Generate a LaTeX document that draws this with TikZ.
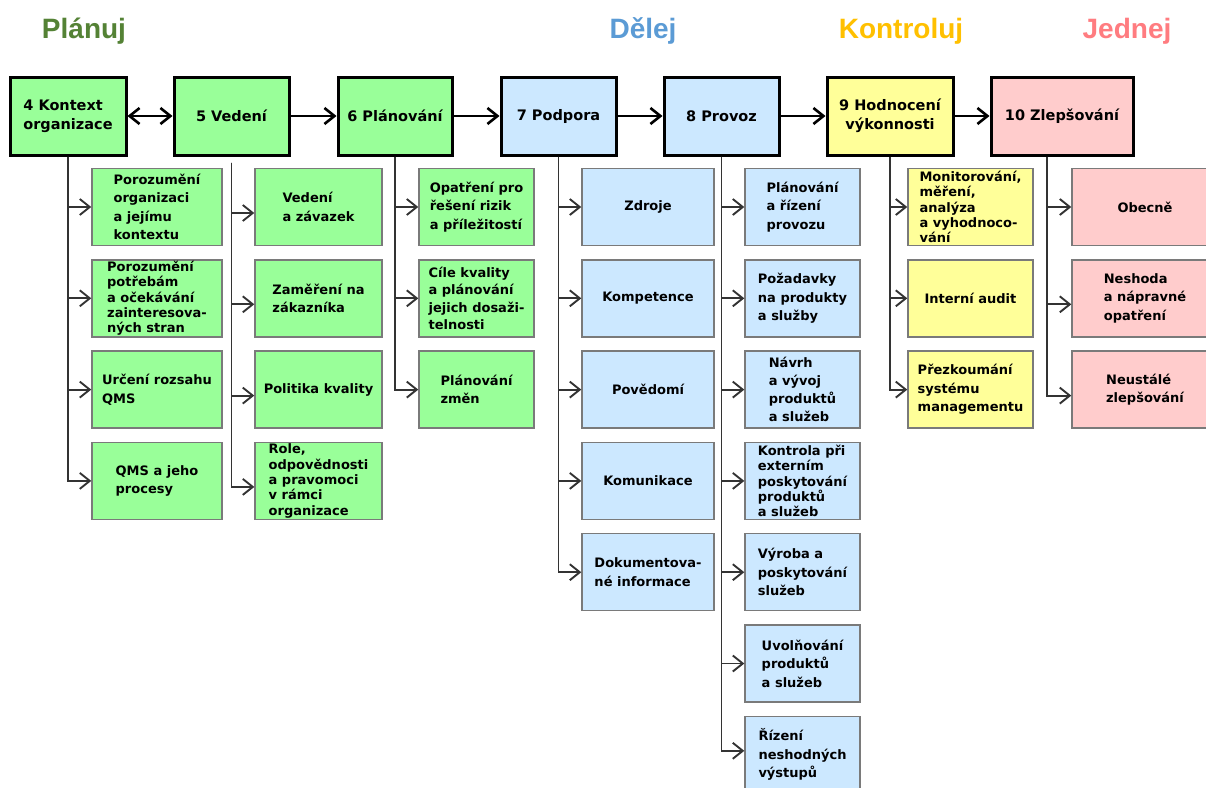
\documentclass[tikz,border=0pt]{standalone}
\usepackage{fontspec}
\setmainfont{DejaVu Sans}
\newfontfamily\headfont{Liberation Sans}
\usetikzlibrary{arrows.meta}

\definecolor{plangreen}{HTML}{548235}
\definecolor{doblue}{HTML}{5B9BD5}
\definecolor{checkgold}{HTML}{FFC000}
\definecolor{actpink}{HTML}{FF7C80}
\definecolor{fgreen}{HTML}{99FF99}
\definecolor{fblue}{HTML}{CCE8FF}
\definecolor{fyellow}{HTML}{FFFF99}
\definecolor{fpink}{HTML}{FFCCCC}
\definecolor{edgegray}{HTML}{7A7A7A}
\definecolor{linkgray}{HTML}{333333}

\begin{document}
\begin{tikzpicture}[x=1pt,y=-1pt,
  phase/.style={font=\headfont\bfseries\fontsize{28}{30}\selectfont, anchor=base},
  clause/.style={draw=black, line width=3pt, minimum height=78pt, inner sep=2pt,
    align=center, font=\bfseries\fontsize{14.5}{19}\selectfont, text=black},
  item/.style={draw=edgegray, line width=1.4pt, minimum height=77pt, inner sep=1pt,
    align=left, font=\bfseries\fontsize{13}{18.5}\selectfont, text=black},
  tight/.style={font=\bfseries\fontsize{13}{15.3}\selectfont},
  flow/.style={line width=2.6pt, -{Straight Barb[length=10pt,width=16pt]}},
  branch/.style={linkgray, line width=1.9pt, -{Straight Barb[length=10pt,width=16pt]}},
  col4/.style={item, fill=fgreen, minimum width=130pt},
  col5/.style={item, fill=fgreen, minimum width=127pt},
  col6/.style={item, fill=fgreen, minimum width=115pt},
  col7/.style={item, fill=fblue, minimum width=132pt},
  col8/.style={item, fill=fblue, minimum width=115pt},
  col9/.style={item, fill=fyellow, minimum width=125pt},
  col10/.style={item, fill=fpink, minimum width=146pt},
]
\fill[white] (0,0) rectangle (1206,787);
\useasboundingbox (0,0) rectangle (1206,787);

% PDCA phase headings
\node[phase, text=plangreen] (hplan) at (84,38) {Plánuj};
\node[phase, text=doblue] (hdo) at (643,38) {Dělej};
\node[phase, text=checkgold] (hcheck) at (901,38) {Kontroluj};
\node[phase, text=actpink] (hact) at (1127,38) {Jednej};

% main clauses of the standard
\node[clause, fill=fgreen, minimum width=116pt, align=left] (b4) at (68,116) {4 Kontext\\organizace};
\node[clause, fill=fgreen, minimum width=115pt] (b5) at (231.5,116) {5 Vedení};
\node[clause, fill=fgreen, minimum width=114pt] (b6) at (395,116) {6 Plánování};
\node[clause, fill=fblue, minimum width=115pt] (b7) at (558.5,116) {7 Podpora};
\node[clause, fill=fblue, minimum width=115pt] (b8) at (721.5,116) {8 Provoz};
\node[clause, fill=fyellow, minimum width=126pt] (b9) at (890,116) {9 Hodnocení\\výkonnosti};
\node[clause, fill=fpink, minimum width=142pt] (b10) at (1062,116) {10 Zlepšování};

\draw[flow, {Straight Barb[length=10pt,width=16pt]}-{Straight Barb[length=10pt,width=16pt]}] (b4.east) -- (b5.west);
\draw[flow] (b5.east) -- (b6.west);
\draw[flow] (b6.east) -- (b7.west);
\draw[flow] (b7.east) -- (b8.west);
\draw[flow] (b8.east) -- (b9.west);
\draw[flow] (b9.east) -- (b10.west);

% clause 4
\node[col4] (s41) at (157,207) {Porozumění\\organizaci\\a jejímu\\kontextu};
\node[col4, tight] (s42) at (157,298.3) {Porozumění\\potřebám\\a očekávání\\zainteresova-\\ných stran};
\node[col4] (s43) at (157,389.6) {Určení rozsahu\\QMS};
\node[col4] (s44) at (157,480.9) {QMS a jeho\\procesy};

% clause 5
\node[col5] (s51) at (318.5,207) {Vedení\\a závazek};
\node[col5] (s52) at (318.5,298.3) {Zaměření na\\zákazníka};
\node[col5] (s53) at (318.5,389.6) {Politika kvality};
\node[col5, tight] (s54) at (318.5,480.9) {Role,\\odpovědnosti\\a pravomoci\\v rámci\\organizace};

% clause 6
\node[col6] (s61) at (476.5,207) {Opatření pro\\řešení rizik\\a příležitostí};
\node[col6, font=\bfseries\fontsize{13}{17.5}\selectfont] (s62) at (476.5,298.3) {Cíle kvality\\a plánování\\jejich dosaži-\\telnosti};
\node[col6] (s63) at (476.5,389.6) {Plánování\\změn};

% clause 7
\node[col7] (s71) at (648,207) {Zdroje};
\node[col7] (s72) at (648,298.3) {Kompetence};
\node[col7] (s73) at (648,389.6) {Povědomí};
\node[col7] (s74) at (648,480.9) {Komunikace};
\node[col7] (s75) at (648,572.2) {Dokumentova-\\né informace};

% clause 8
\node[col8] (s81) at (802.5,207) {Plánování\\a řízení\\provozu};
\node[col8] (s82) at (802.5,298.3) {Požadavky\\na produkty\\a služby};
\node[col8, font=\bfseries\fontsize{13}{18}\selectfont] (s83) at (802.5,389.6) {Návrh\\a vývoj\\produktů\\a služeb};
\node[col8, tight] (s84) at (802.5,480.9) {Kontrola při\\externím\\poskytování\\produktů\\a služeb};
\node[col8] (s85) at (802.5,572.2) {Výroba a\\poskytování\\služeb};
\node[col8] (s86) at (802.5,663.5) {Uvolňování\\produktů\\a služeb};
\node[col8] (s87) at (802.5,754.8) {Řízení\\neshodných\\výstupů};

% clause 9
\node[col9, tight] (s91) at (970.5,207) {Monitorování,\\měření,\\analýza\\a vyhodnoco-\\vání};
\node[col9] (s92) at (970.5,298.3) {Interní audit};
\node[col9] (s93) at (970.5,389.6) {Přezkoumání\\systému\\managementu};

% clause 10
\node[col10] (s101) at (1145,207) {Obecně};
\node[col10] (s102) at (1145,298.3) {Neshoda\\a nápravné\\opatření};
\node[col10] (s103) at (1145,389.6) {Neustálé\\zlepšování};

% branch connectors
\coordinate (t5) at ([yshift=-6pt]b5.south);
\coordinate (t10) at ([xshift=-15pt]b10.south);

\foreach \s in {s41,s42,s43,s44} \draw[branch] (b4.south) |- (\s.west);
\foreach \s in {s51,s52,s53,s54} \draw[branch] (t5) |- ([yshift=-6pt]\s.west);
\foreach \s in {s61,s62,s63} \draw[branch] (b6.south) |- (\s.west);
\foreach \s in {s71,s72,s73,s74,s75} \draw[branch] (b7.south) |- (\s.west);
\foreach \s in {s81,s82,s83,s84,s85,s86} \draw[branch] (b8.south) |- (\s.west);
\draw[branch] (b8.south) |- ([yshift=4pt]s87.west);
\foreach \s in {s91,s92,s93} \draw[branch] (b9.south) |- (\s.west);
\draw[branch] (t10) |- (s101.west);
\draw[branch] (t10) |- ([yshift=-6pt]s102.west);
\draw[branch] (t10) |- ([yshift=-6pt]s103.west);
\end{tikzpicture}
\end{document}
